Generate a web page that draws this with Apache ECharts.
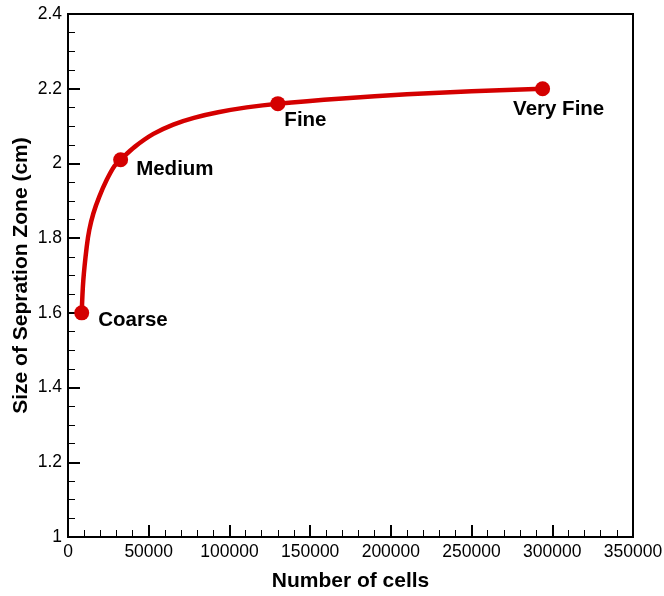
<!DOCTYPE html>
<html>
<head>
<meta charset="utf-8">
<script src="https://cdn.jsdelivr.net/npm/echarts@6/dist/echarts.min.js"></script>
<style>html,body{margin:0;padding:0;background:#fff;}#c{width:664px;height:596px;}</style>
</head>
<body>
<div id="c"></div>
<script>
var meshNames = ['Coarse', 'Medium', 'Fine', 'Very Fine'];
var meshCells = [8500, 32600, 130000, 294000];
var meshSize = [1.60, 2.01, 2.16, 2.20];

// trend curve
var curveX = [8500, 9500, 11600, 13200, 15700, 19400, 24000, 28800, 32600, 41500, 52900, 65200, 78000, 93000, 110700, 130000, 170000, 210000, 250000, 294000];
var curveY = [1.60, 1.688, 1.777, 1.822, 1.866, 1.911, 1.956, 1.993, 2.01, 2.045, 2.079, 2.104, 2.122, 2.137, 2.150, 2.16, 2.174, 2.185, 2.193, 2.20];

var xTicks = [0, 50000, 100000, 150000, 200000, 250000, 300000, 350000];
var yTicks = [1, 1.2, 1.4, 1.6, 1.8, 2, 2.2, 2.4];

var labelOffsets = [[4, 7], [3, 10], [-6, 17], [-42, 21]];
var FONT = 'Liberation Sans, Arial, sans-serif';
var RED = '#d40000';

var chart = echarts.init(document.getElementById('c'), null, {renderer: 'canvas'});
chart.setOption({
  animation: false,
  backgroundColor: '#fff',
  grid: {left: 68, right: 31, top: 14, bottom: 59, show: true, borderColor: '#000', borderWidth: 2,
    containLabel: false, outerBoundsMode: 'none'},
  xAxis: {
    type: 'value', min: xTicks[0], max: xTicks[xTicks.length - 1], interval: 50000,
    name: 'Number of cells', nameLocation: 'middle', nameGap: 34, nameMoveOverlap: false,
    nameTextStyle: {fontFamily: FONT, fontWeight: 'bold', fontSize: 21, color: '#000'},
    axisLine: {show: true, lineStyle: {color: '#000', width: 2}},
    axisTick: {show: true, inside: true, length: 12, lineStyle: {color: '#000', width: 2}},
    minorTick: {show: true, splitNumber: 5, length: 7, lineStyle: {color: '#000', width: 1}},
    splitLine: {show: false},
    axisLabel: {fontFamily: FONT, fontSize: 17.5, color: '#000', margin: 6, showMinLabel: true, showMaxLabel: true,
      formatter: function (v) { return String(v); }}
  },
  yAxis: {
    type: 'value', min: yTicks[0], max: yTicks[yTicks.length - 1], interval: 0.2,
    name: 'Size of Sepration Zone (cm)', nameLocation: 'middle', nameGap: 36, nameMoveOverlap: false,
    nameTextStyle: {fontFamily: FONT, fontWeight: 'bold', fontSize: 21, color: '#000'},
    axisLine: {show: true, lineStyle: {color: '#000', width: 2}},
    axisTick: {show: true, inside: true, length: 12, lineStyle: {color: '#000', width: 2}},
    minorTick: {show: true, splitNumber: 4, length: 7, lineStyle: {color: '#000', width: 1}},
    splitLine: {show: false},
    axisLabel: {fontFamily: FONT, fontSize: 17.5, color: '#000', margin: 6,
      formatter: function (v) { return String(Math.round(v * 10) / 10); }}
  },
  series: [
    {
      type: 'line', smooth: 0.35, showSymbol: false, silent: true,
      data: curveX.map(function (x, i) { return [x, curveY[i]]; }),
      lineStyle: {color: RED, width: 4.5}, z: 2
    },
    {
      type: 'scatter', symbol: 'circle', symbolSize: 15, z: 3,
      itemStyle: {color: RED, opacity: 1},
      data: meshCells.map(function (x, i) {
        return {
          value: [x, meshSize[i]], name: meshNames[i],
          label: {show: true, position: 'right', offset: labelOffsets[i], formatter: meshNames[i],
            fontFamily: FONT, fontWeight: 'bold', fontSize: 20.5, color: '#000', opacity: 1}
        };
      })
    }
  ]
});
</script>
</body>
</html>
